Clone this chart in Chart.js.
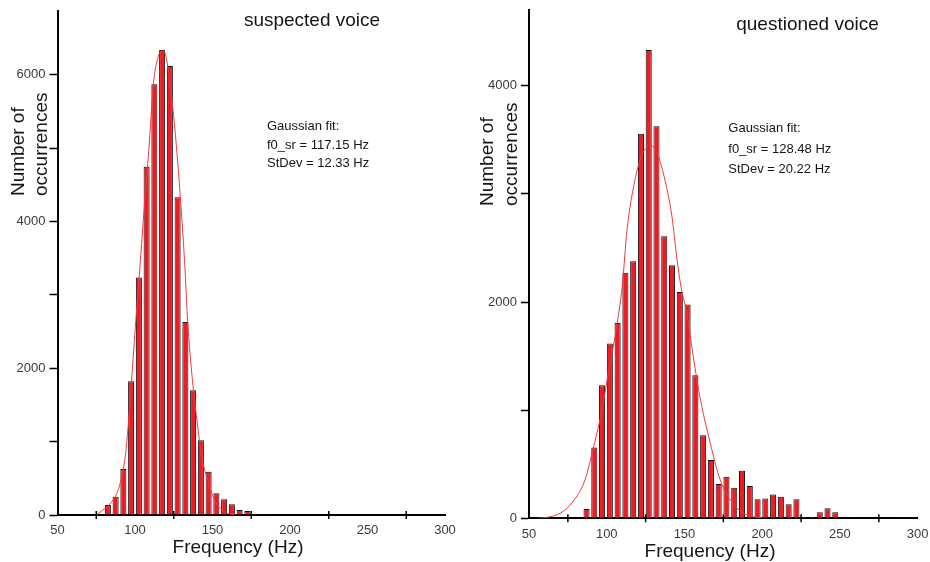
<!DOCTYPE html>
<html>
<head>
<meta charset="utf-8">
<script src="https://cdn.jsdelivr.net/npm/chart.js@4.4.0/dist/chart.umd.min.js"></script>
<style>
  html, body { margin: 0; padding: 0; background: #fff; }
  #wrap { position: relative; width: 930px; height: 562px; }
  canvas { position: absolute; top: 0; }
  #leftChart { left: 0; }
  #rightChart { left: 465px; }
</style>
</head>
<body>
<div id="wrap">
  <canvas id="leftChart" width="465" height="562"></canvas>
  <canvas id="rightChart" width="465" height="562"></canvas>
</div>
<script>
// ---- data (5 Hz bins) ----
const suspectedFreq = [82.5, 87.5, 92.5, 97.5, 102.5, 107.5, 112.5, 117.5, 122.5, 127.5, 132.5, 137.5,
                       142.5, 147.5, 152.5, 157.5, 162.5, 167.5, 172.5, 177.5, 182.5, 187.5, 192.5];
const suspectedCount = [136, 249, 626, 1823, 3238, 4748, 5873, 6340, 6122, 4331, 2630, 1701,
                        1020, 589, 295, 213, 145, 68, 54, 18, 12, 10, 10];

// gaussian fit line
const suspectedFitFreq = [75, 80, 85, 90, 94, 97, 100, 103, 106, 109, 112, 115, 117.5, 120, 123, 126,
                          129, 132, 134, 137, 140, 143, 146, 150, 154, 159, 165];
const suspectedFitCount = [0, 80, 180, 400, 850, 1600, 2500, 3333, 4200, 5000, 5900, 6250, 6330, 6250, 5800, 5200,
                           4400, 3450, 2630, 1850, 1290, 800, 540, 270, 110, 30, 0];

const questionedFreq = [87, 92, 97, 102, 107, 112, 117, 122, 127, 132, 137, 142, 147, 152, 157, 162, 167,
                        172, 177, 182, 187, 192, 197, 202, 207, 212, 217, 222, 227, 232, 237, 242, 247,
                        257, 287, 292, 297];
const questionedCount = [86, 655, 1231, 1616, 1806, 2271, 2376, 3555, 4331, 3625, 2609, 2339, 2092, 1976, 1323, 769, 538,
                         317, 384, 283, 440, 298, 175, 184, 221, 200, 129, 175, 15, 15, 55, 92, 55,
                         8, 10, 10, 10];

const questionedFitFreq = [55, 60, 70, 78, 86, 91, 96.5, 101, 106, 110, 113, 118, 123, 128.5, 133, 137.5,
                           142, 145, 148, 151.5, 155, 159.5, 166.5, 173, 181, 190, 200];
const questionedFitCount = [0, 5, 46, 150, 354, 630, 970, 1340, 1740, 2150, 2660, 3120, 3370, 3447, 3355, 3124,
                            2785, 2416, 2120, 1900, 1560, 1154, 700, 354, 140, 30, 5];

// ticks
const xLabelTicks = [50, 100, 150, 200, 250, 300];
const xCrossTicks = [75, 125, 175, 225, 275];
const suspectedYTicks = [0, 1000, 2000, 3000, 4000, 5000, 6000];
const questionedYTicks = [0, 1000, 2000, 3000, 4000];
const yLabelTicks = [0, 2000, 4000, 6000];

const FONT = '"Liberation Sans", Arial, sans-serif';

// titles, axis titles, fit text and the crossing x ticks
const decor = {
    id: 'decor',
    afterDraw(chart, args, o) {
        const ctx = chart.ctx;
        const xs = chart.scales.x, ys = chart.scales.y;
        ctx.save();

        ctx.strokeStyle = '#000';
        ctx.lineWidth = 1.5;
        xCrossTicks.forEach(v => {
            const px = xs.getPixelForValue(v);
            ctx.beginPath();
            ctx.moveTo(px, ys.bottom - 4);
            ctx.lineTo(px, ys.bottom + 4);
            ctx.stroke();
        });

        ctx.fillStyle = '#151515';
        ctx.font = '19px ' + FONT;
        ctx.textAlign = 'center';
        ctx.textBaseline = 'middle';
        ctx.fillText(o.title, o.titleX, o.titleY);
        ctx.fillText('Frequency (Hz)', o.xTitleX, o.xTitleY);

        ['Number of', 'occurrences'].forEach((line, i) => {
            ctx.save();
            ctx.translate(o.yTitleX[i], o.yTitleBottom);
            ctx.rotate(-Math.PI / 2);
            ctx.textAlign = 'left';
            ctx.fillText(line, 0, 0);
            ctx.restore();
        });

        ctx.font = '13px ' + FONT;
        ctx.textAlign = 'left';
        o.fitLines.forEach((line, i) => {
            ctx.fillText(line, o.fitX, o.fitY + i * o.fitStep);
        });
        ctx.restore();
    }
};

function makeChart(id, freq, counts, fitFreq, fitCounts, yTicks, s) {
    const ctx = document.getElementById(id).getContext('2d');
    return new Chart(ctx, {
        type: 'bar',
        data: {
            datasets: [{
                type: 'line',
                data: fitFreq.map((f, i) => ({ x: f, y: fitCounts[i] })),
                borderColor: '#f03a3a',
                borderWidth: 1,
                pointRadius: 0,
                cubicInterpolationMode: 'monotone',
                order: 0
            }, {
                type: 'bar',
                data: freq.map((f, i) => ({ x: f, y: counts[i] })),
                backgroundColor: '#ec1c24',
                borderColor: '#111',
                borderWidth: 1,
                barPercentage: 0.78,
                categoryPercentage: 1,
                order: 1
            }]
        },
        options: {
            responsive: false,
            animation: false,
            devicePixelRatio: 1,
            layout: { padding: { left: 0, top: s.top, right: s.right, bottom: 0 } },
            plugins: {
                legend: { display: false },
                tooltip: { enabled: false },
                decor: s.decor
            },
            scales: {
                x: {
                    type: 'linear',
                    min: 50,
                    max: 300,
                    offset: false,
                    grid: { display: true, drawOnChartArea: false, drawTicks: false },
                    border: { display: true, color: '#000', width: 2 },
                    ticks: {
                        autoSkip: false,
                        padding: 8,
                        color: '#3b3b3b',
                        font: { family: FONT, size: 13 },
                        maxRotation: 0
                    },
                    afterBuildTicks: sc => { sc.ticks = xLabelTicks.map(v => ({ value: v })); },
                    afterFit: sc => {
                        sc.height = s.xHeight;
                        sc.paddingLeft = 0; sc.paddingRight = 0;
                    }
                },
                y: {
                    min: 0,
                    max: s.yMax,
                    grid: { display: true, drawOnChartArea: false, drawTicks: true, tickLength: 8, tickColor: '#000', tickWidth: 1.5 },
                    border: { display: true, color: '#000', width: 2 },
                    ticks: {
                        autoSkip: false,
                        padding: 4,
                        color: '#3b3b3b',
                        font: { family: FONT, size: 13 },
                        callback: v => yLabelTicks.includes(v) ? String(v) : ''
                    },
                    afterBuildTicks: sc => { sc.ticks = yTicks.map(v => ({ value: v })); },
                    afterFit: sc => {
                        sc.width = s.yWidth;
                        sc.paddingTop = 0; sc.paddingBottom = 0;
                    }
                }
            }
        },
        plugins: [decor]
    });
}

makeChart('leftChart', suspectedFreq, suspectedCount, suspectedFitFreq, suspectedFitCount, suspectedYTicks, {
    top: 11, right: 20, xHeight: 47, yWidth: 57.5, yMax: 6870,
    decor: {
        title: 'suspected voice', titleX: 312, titleY: 21,
        xTitleX: 238, xTitleY: 548,
        yTitleX: [18.5, 42], yTitleBottom: 196,
        fitLines: ['Gaussian fit:', 'f0_sr = 117.15 Hz', 'StDev = 12.33 Hz'],
        fitX: 267, fitY: 126.7, fitStep: 18.3
    }
});

makeChart('rightChart', questionedFreq, questionedCount, questionedFitFreq, questionedFitCount, questionedYTicks, {
    top: 10, right: 12.3, xHeight: 43.7, yWidth: 64, yMax: 4700,
    decor: {
        title: 'questioned voice', titleX: 342.5, titleY: 25,
        xTitleX: 245, xTitleY: 551.7,
        yTitleX: [23, 47], yTitleBottom: 206,
        fitLines: ['Gaussian fit:', 'f0_sr = 128.48 Hz', 'StDev = 20.22 Hz'],
        fitX: 263.3, fitY: 128.3, fitStep: 20.8
    }
});
</script>
</body>
</html>
